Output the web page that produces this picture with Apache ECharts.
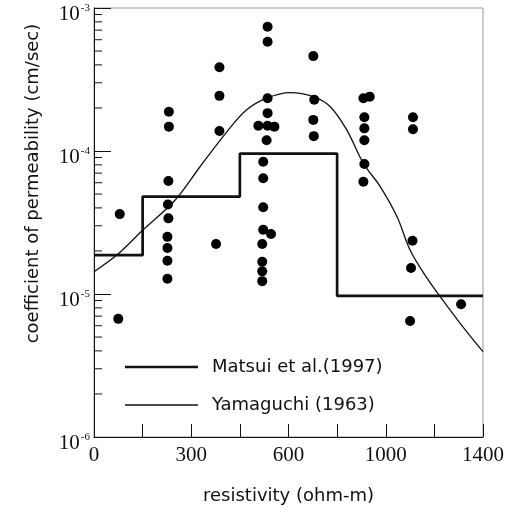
<!DOCTYPE html>
<html>
<head>
  <meta charset="UTF-8">
  <title>permeability vs resistivity</title>
  <style>
    html, body { margin: 0; padding: 0; background: #fff; }
    #chart { width: 513px; height: 512px; }
  </style>
</head>
<body>
  <div id="chart"></div>
  <script src="https://cdn.jsdelivr.net/npm/echarts@6/dist/echarts.min.js"></script>
  <script>
  // x axis: evenly spaced ticks 0..8, only the even ones carry a label
  var xTickLabels = ['0', '', '300', '', '600', '', '1000', '', '1400'];
  // minor ticks on the log axis (2..9 of each decade)
  var yMinorTicks = [
    2e-6, 3e-6, 4e-6, 5e-6, 6e-6, 7e-6, 8e-6, 9e-6,
    2e-5, 3e-5, 4e-5, 5e-5, 6e-5, 7e-5, 8e-5, 9e-5,
    2e-4, 3e-4, 4e-4, 5e-4, 6e-4, 7e-4, 8e-4, 9e-4
  ];

  // measured points (x in tick units, y in cm/sec)
  var pointX = [
    0.53, 0.50,
    1.54, 1.54, 1.53, 1.52, 1.53, 1.51, 1.51, 1.51, 1.51,
    2.58, 2.58, 2.58, 2.51,
    3.57, 3.57, 3.57, 3.57, 3.38, 3.57, 3.71, 3.55, 3.48, 3.48, 3.48, 3.48, 3.64, 3.46, 3.46, 3.46, 3.46,
    4.51, 4.53, 4.51, 4.52,
    5.54, 5.67, 5.56, 5.56, 5.56, 5.56, 5.54,
    6.56, 6.56, 6.55, 6.52, 6.50,
    7.55
  ];
  var pointY = [
    3.62e-5, 6.7e-6,
    1.88e-4, 1.48e-4, 6.17e-5, 4.23e-5, 3.38e-5, 2.51e-5, 2.10e-5, 1.71e-5, 1.28e-5,
    3.85e-4, 2.43e-4, 1.38e-4, 2.24e-5,
    7.40e-4, 5.81e-4, 2.34e-4, 1.84e-4, 1.50e-4, 1.50e-4, 1.48e-4, 1.19e-4, 8.41e-5, 6.44e-5, 4.04e-5, 2.81e-5, 2.63e-5, 2.24e-5, 1.68e-5, 1.44e-5, 1.23e-5,
    4.61e-4, 2.28e-4, 1.65e-4, 1.27e-4,
    2.34e-4, 2.40e-4, 1.72e-4, 1.44e-4, 1.19e-4, 8.11e-5, 6.10e-5,
    1.72e-4, 1.42e-4, 2.36e-5, 1.52e-5, 6.47e-6,
    8.47e-6
  ];

  // Matsui et al. (1997) step line
  var matsuiX = [0, 1, 3, 5, 8];
  var matsuiY = [1.87e-5, 4.8e-5, 9.6e-5, 9.7e-6, 9.7e-6];

  // Yamaguchi (1963) curve
  var yamaX = [0, 0.5, 1.01, 1.67, 2.18, 2.76, 3.14, 3.55, 4.03, 4.51, 4.86, 5.2, 5.54, 5.89, 6.23, 6.5, 6.78, 7.12, 7.53, 8.0];
  var yamaY = [1.43e-5, 1.91e-5, 2.81e-5, 4.54e-5, 7.76e-5, 1.40e-4, 1.94e-4, 2.34e-4, 2.56e-4, 2.40e-4, 2.04e-4, 1.40e-4, 8.2e-5, 5.62e-5, 3.48e-5, 2.03e-5, 1.40e-5, 9.57e-6, 6.24e-6, 3.95e-6];

  function zip(xs, ys) {
    return xs.map(function (x, i) { return [x, ys[i]]; });
  }

  var sans = 'DejaVu Sans';
  var serif = 'Liberation Serif';

  var chart = echarts.init(document.getElementById('chart'));
  var option = {
    animation: false,
    backgroundColor: '#fff',
    grid: {
      left: 94, right: 30, top: 8, bottom: 75,
      show: true, borderColor: '#999', borderWidth: 1,
      outerBoundsMode: 'none'
    },
    legend: [{
      data: ['Matsui et al.(1997)'],
      left: 120, top: 353,
      icon: 'rect', itemWidth: 73, itemHeight: 2.5,
      textStyle: { fontFamily: sans, fontSize: 18, color: '#111', padding: [0, 0, 0, 9] }
    }, {
      data: ['Yamaguchi (1963)'],
      left: 120, top: 391,
      icon: 'rect', itemWidth: 73, itemHeight: 1.5,
      textStyle: { fontFamily: sans, fontSize: 18, color: '#111', padding: [0, 0, 0, 9] }
    }],
    xAxis: {
      type: 'value',
      min: 0, max: 8, interval: 1,
      name: 'resistivity (ohm-m)',
      nameLocation: 'middle',
      nameGap: 50,
      nameTextStyle: { fontFamily: sans, fontSize: 18, color: '#111' },
      axisLine: { lineStyle: { color: '#111', width: 1 } },
      axisTick: { inside: true, length: 13, lineStyle: { color: '#111' } },
      splitLine: { show: false },
      axisLabel: {
        margin: 8,
        fontFamily: serif, fontSize: 21, color: '#111',
        formatter: function (v) { return xTickLabels[Math.round(v)] || ''; }
      }
    },
    yAxis: {
      type: 'log',
      logBase: 10,
      min: 1e-6, max: 1e-3,
      name: 'coefficient of permeability (cm/sec)',
      nameLocation: 'middle',
      nameGap: 52,
      nameTextStyle: { fontFamily: sans, fontSize: 18, color: '#111', padding: [0, 0, 0, 78] },
      axisLine: { lineStyle: { color: '#111', width: 1 } },
      axisTick: { inside: true, length: 17, lineStyle: { color: '#111' } },
      splitLine: { show: false },
      axisLabel: {
        margin: 4,
        formatter: function (v) {
          var e = Math.round(Math.log(v) / Math.LN10);
          return '{b|10}{s|' + e + '}';
        },
        rich: {
          b: { fontFamily: serif, fontSize: 21, color: '#111', verticalAlign: 'bottom', padding: [12, 0, 0, 0] },
          s: { fontFamily: serif, fontSize: 11, color: '#111', verticalAlign: 'bottom', padding: [0, 0, 11, 1] }
        }
      }
    },
    series: [{
      name: 'minor ticks',
      type: 'custom',
      silent: true,
      clip: false,
      data: yMinorTicks.map(function (v) { return [0, v]; }),
      renderItem: function (params, api) {
        var p = api.coord([0, api.value(1)]);
        return {
          type: 'line',
          shape: { x1: p[0], y1: p[1], x2: p[0] + 8, y2: p[1] },
          style: { stroke: '#111', lineWidth: 1 }
        };
      },
      z: 1
    }, {
      name: 'Matsui et al.(1997)',
      type: 'line',
      step: 'end',
      data: zip(matsuiX, matsuiY),
      showSymbol: false,
      color: '#111',
      lineStyle: { color: '#111', width: 2.7 },
      z: 3
    }, {
      name: 'Yamaguchi (1963)',
      type: 'line',
      smooth: 0.35,
      data: zip(yamaX, yamaY),
      showSymbol: false,
      color: '#111',
      lineStyle: { color: '#111', width: 1.3 },
      z: 3
    }, {
      name: 'data',
      type: 'scatter',
      data: zip(pointX, pointY),
      symbolSize: 10,
      itemStyle: { color: '#000', opacity: 1 },
      z: 4
    }]
  };
  chart.setOption(option);
  </script>
</body>
</html>
